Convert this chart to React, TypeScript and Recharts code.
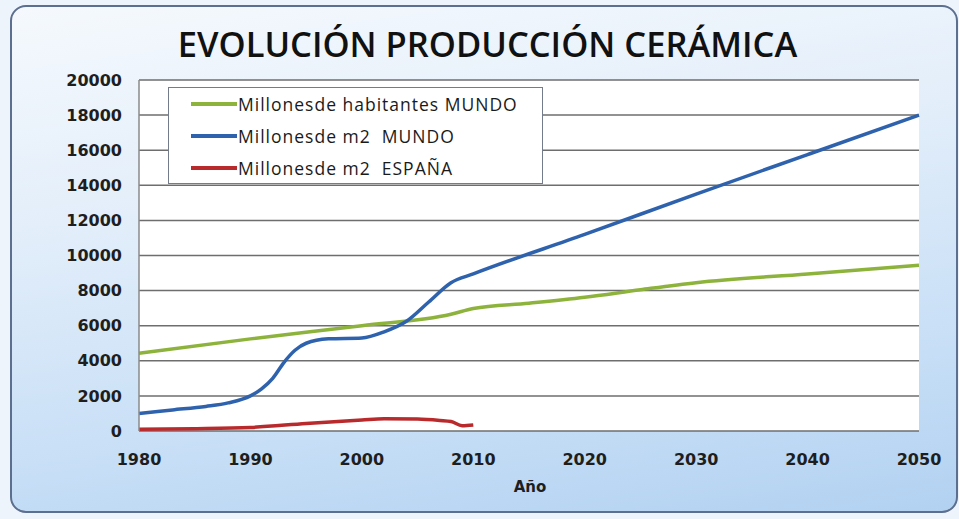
import { LineChart, Line, XAxis, YAxis, CartesianGrid, Legend } from 'recharts'

// Millones de habitantes MUNDO
const popYears = [1980, 1990, 2000, 2008, 2010, 2015, 2020, 2025, 2030, 2040, 2050]
const popValues = [4430, 5250, 6000, 6650, 6980, 7280, 7620, 8050, 8450, 8950, 9450]

// Millones de m2 MUNDO
const worldYears = [1980, 1983, 1986, 1988, 1990, 1991, 1992, 1993, 1994, 1995, 1997, 2000, 2002, 2004, 2006, 2008, 2010, 2020, 2030, 2040, 2050]
const worldValues = [1000, 1200, 1400, 1600, 2000, 2400, 3000, 3900, 4600, 5000, 5250, 5300, 5650, 6250, 7350, 8450, 8950, 11200, 13500, 15750, 18000]

// Millones de m2 ESPAÑA
const spainYears = [1980, 1985, 1990, 1995, 2000, 2002, 2005, 2007, 2008, 2009, 2010]
const spainValues = [100, 130, 200, 430, 630, 700, 680, 600, 540, 300, 340]

const xTicks = [1980, 1990, 2000, 2010, 2020, 2030, 2040, 2050]
const yTicks = [0, 2000, 4000, 6000, 8000, 10000, 12000, 14000, 16000, 18000, 20000]

const seriesNames = ['Millonesde habitantes MUNDO', 'Millonesde m2  MUNDO', 'Millonesde m2  ESPAÑA']
const colors = ['#8db33c', '#2f62ad', '#b82a2c']

const popData = popYears.map((year, i) => ({ year, value: popValues[i] }))
const worldData = worldYears.map((year, i) => ({ year, value: worldValues[i] }))
const spainData = spainYears.map((year, i) => ({ year, value: spainValues[i] }))

const tickStyle = { fill: '#1e1e1e', fontFamily: 'DejaVu Sans', fontWeight: 'bold', fontSize: 16 }

function LegendBox() {
  return (
    <div style={{
      width: 375, height: 97, background: '#fff', border: '1.5px solid #747c8c',
      boxSizing: 'border-box', fontFamily: 'Open Sans', fontSize: 17.5, letterSpacing: 1, color: '#1a1a1a'
    }}>
      {seriesNames.map((name, i) => (
        <div key={name} style={{ display: 'flex', alignItems: 'center', height: 32 }}>
          <span style={{ display: 'inline-block', width: 46, height: 4, background: colors[i], marginLeft: 22, marginRight: 1 }} />
          <span style={{ whiteSpace: 'pre' }}>{name}</span>
        </div>
      ))}
    </div>
  )
}

export default function App() {
  return (
    <div style={{ position: 'absolute', left: 0, top: 0, width: 959, height: 519, background: '#eef4fb', overflow: 'hidden' }}>
      <div style={{
        position: 'absolute', left: 10, top: 5, width: 944, height: 504,
        border: '2px solid #5c6f8e', borderRadius: 16,
        background: 'linear-gradient(172deg, #f5f9fd 0%, #e3eefa 35%, #c6def6 75%, #b2d1f1 100%)'
      }} />
      <div style={{
        position: 'absolute', left: 0, width: 975, top: 21, textAlign: 'center',
        fontFamily: 'Open Sans', fontWeight: 600, fontSize: 34.5, color: '#111', lineHeight: '46px'
      }}>
        EVOLUCIÓN PRODUCCIÓN CERÁMICA
      </div>
      <div style={{ position: 'absolute', left: 0, top: 0 }}>
        <LineChart width={959} height={519} margin={{ top: 80, right: 40, bottom: 58, left: 59 }}>
          <CartesianGrid vertical={false} stroke="#6e6e6e" strokeWidth={1.5} fill="#ffffff" />
          <XAxis
            dataKey="year" type="number" domain={[1980, 2050]} ticks={xTicks}
            axisLine={false} tickLine={false} tickSize={0} tickMargin={23} height={30}
            tick={tickStyle} allowDuplicatedCategory={false}
          />
          <YAxis
            type="number" domain={[0, 20000]} ticks={yTicks} width={80}
            axisLine={{ stroke: '#8a8a8a', strokeWidth: 1.5 }} tickLine={false} tickSize={0} tickMargin={17}
            tick={tickStyle}
          />
          <Legend
            layout="vertical" align="center" verticalAlign="middle"
            wrapperStyle={{ position: 'absolute', left: 168, top: 87, width: 375, height: 97 }}
            content={() => <LegendBox />}
          />
          <Line data={popData} dataKey="value" name={seriesNames[0]} type="monotone" stroke={colors[0]} strokeWidth={3.5} dot={false} isAnimationActive={false} />
          <Line data={worldData} dataKey="value" name={seriesNames[1]} type="monotone" stroke={colors[1]} strokeWidth={3.5} dot={false} isAnimationActive={false} />
          <Line data={spainData} dataKey="value" name={seriesNames[2]} type="monotone" stroke={colors[2]} strokeWidth={3.5} dot={false} isAnimationActive={false} />
        </LineChart>
      </div>
      <div style={{
        position: 'absolute', left: 500, top: 478, width: 60, textAlign: 'center',
        fontFamily: 'DejaVu Sans', fontWeight: 'bold', fontSize: 15, color: '#1e1e1e'
      }}>
        Año
      </div>
    </div>
  )
}
